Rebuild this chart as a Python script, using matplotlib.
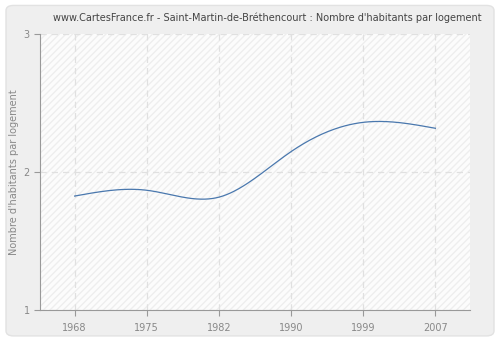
import matplotlib
matplotlib.use("Agg")
import matplotlib.pyplot as plt
import numpy as np
from matplotlib.patches import FancyBboxPatch, Rectangle

# data
years = ["1968", "1975", "1982", "1990", "1999", "2007"]
habitants = [1.826, 1.868, 1.818, 2.148, 2.36, 2.317]
y_ticks = [1, 2, 3]

title = "www.CartesFrance.fr - Saint-Martin-de-Bréthencourt : Nombre d'habitants par logement"


def natural_spline(x, y, xs):
    # natural cubic spline, only used to draw a smooth curve through the points
    x = np.asarray(x, float)
    y = np.asarray(y, float)
    n = len(x)
    h = np.diff(x)
    A = np.zeros((n, n))
    b = np.zeros(n)
    A[0, 0] = A[-1, -1] = 1
    for i in range(1, n - 1):
        A[i, i - 1] = h[i - 1]
        A[i, i] = 2 * (h[i - 1] + h[i])
        A[i, i + 1] = h[i]
        b[i] = 3 * ((y[i + 1] - y[i]) / h[i] - (y[i] - y[i - 1]) / h[i - 1])
    c = np.linalg.solve(A, b)
    out = np.empty_like(xs)
    for k, t in enumerate(xs):
        i = min(np.searchsorted(x, t, side="right") - 1, n - 2)
        dx = t - x[i]
        bi = (y[i + 1] - y[i]) / h[i] - h[i] * (2 * c[i] + c[i + 1]) / 3
        di = (c[i + 1] - c[i]) / (3 * h[i])
        out[k] = y[i] + bi * dx + c[i] * dx ** 2 + di * dx ** 3
    return out


fig = plt.figure(figsize=(5, 3.4), dpi=100)
fig.patch.set_facecolor("white")
panel = FancyBboxPatch((0.012, 0.012), 0.976, 0.972, boxstyle="round,pad=0,rounding_size=0.015",
                       transform=fig.transFigure, facecolor="#efefef", edgecolor="#e2e2e2",
                       linewidth=1, zorder=-10)
fig.patches.append(panel)

ax = fig.add_axes([0.08, 0.088, 0.86, 0.812])
ax.set_facecolor("#fcfcfc")

pos = np.arange(len(years))
ax.set_xlim(-0.48, len(years) - 0.52)
ax.set_ylim(1, 3)

ax.add_patch(Rectangle((0, 0), 1, 1, transform=ax.transAxes, facecolor="none",
                       edgecolor="#eeeeee", hatch="/////", linewidth=0, zorder=0))

xs = np.linspace(0, len(years) - 1, 300)
ax.plot(xs, natural_spline(pos, habitants, xs), color="#4a78ae", linewidth=0.9, zorder=3)

ax.set_xticks(pos)
ax.set_xticklabels(years)
ax.set_yticks(y_ticks)
ax.grid(True, color="#e0e0e0", linestyle=(0, (5, 4)), linewidth=0.9)
ax.set_axisbelow(True)

for s in ["top", "right"]:
    ax.spines[s].set_visible(False)
for s in ["left", "bottom"]:
    ax.spines[s].set_color("#999999")
ax.tick_params(colors="#999999", labelcolor="#888888", labelsize=7, length=4)
ax.tick_params(axis="x", pad=5)

ax.set_ylabel("Nombre d'habitants par logement", fontsize=7, color="#888888", labelpad=3)
fig.text(0.535, 0.948, title, ha="center", va="center", fontsize=7, color="#444444")

fig.savefig("out.png", dpi=100)
